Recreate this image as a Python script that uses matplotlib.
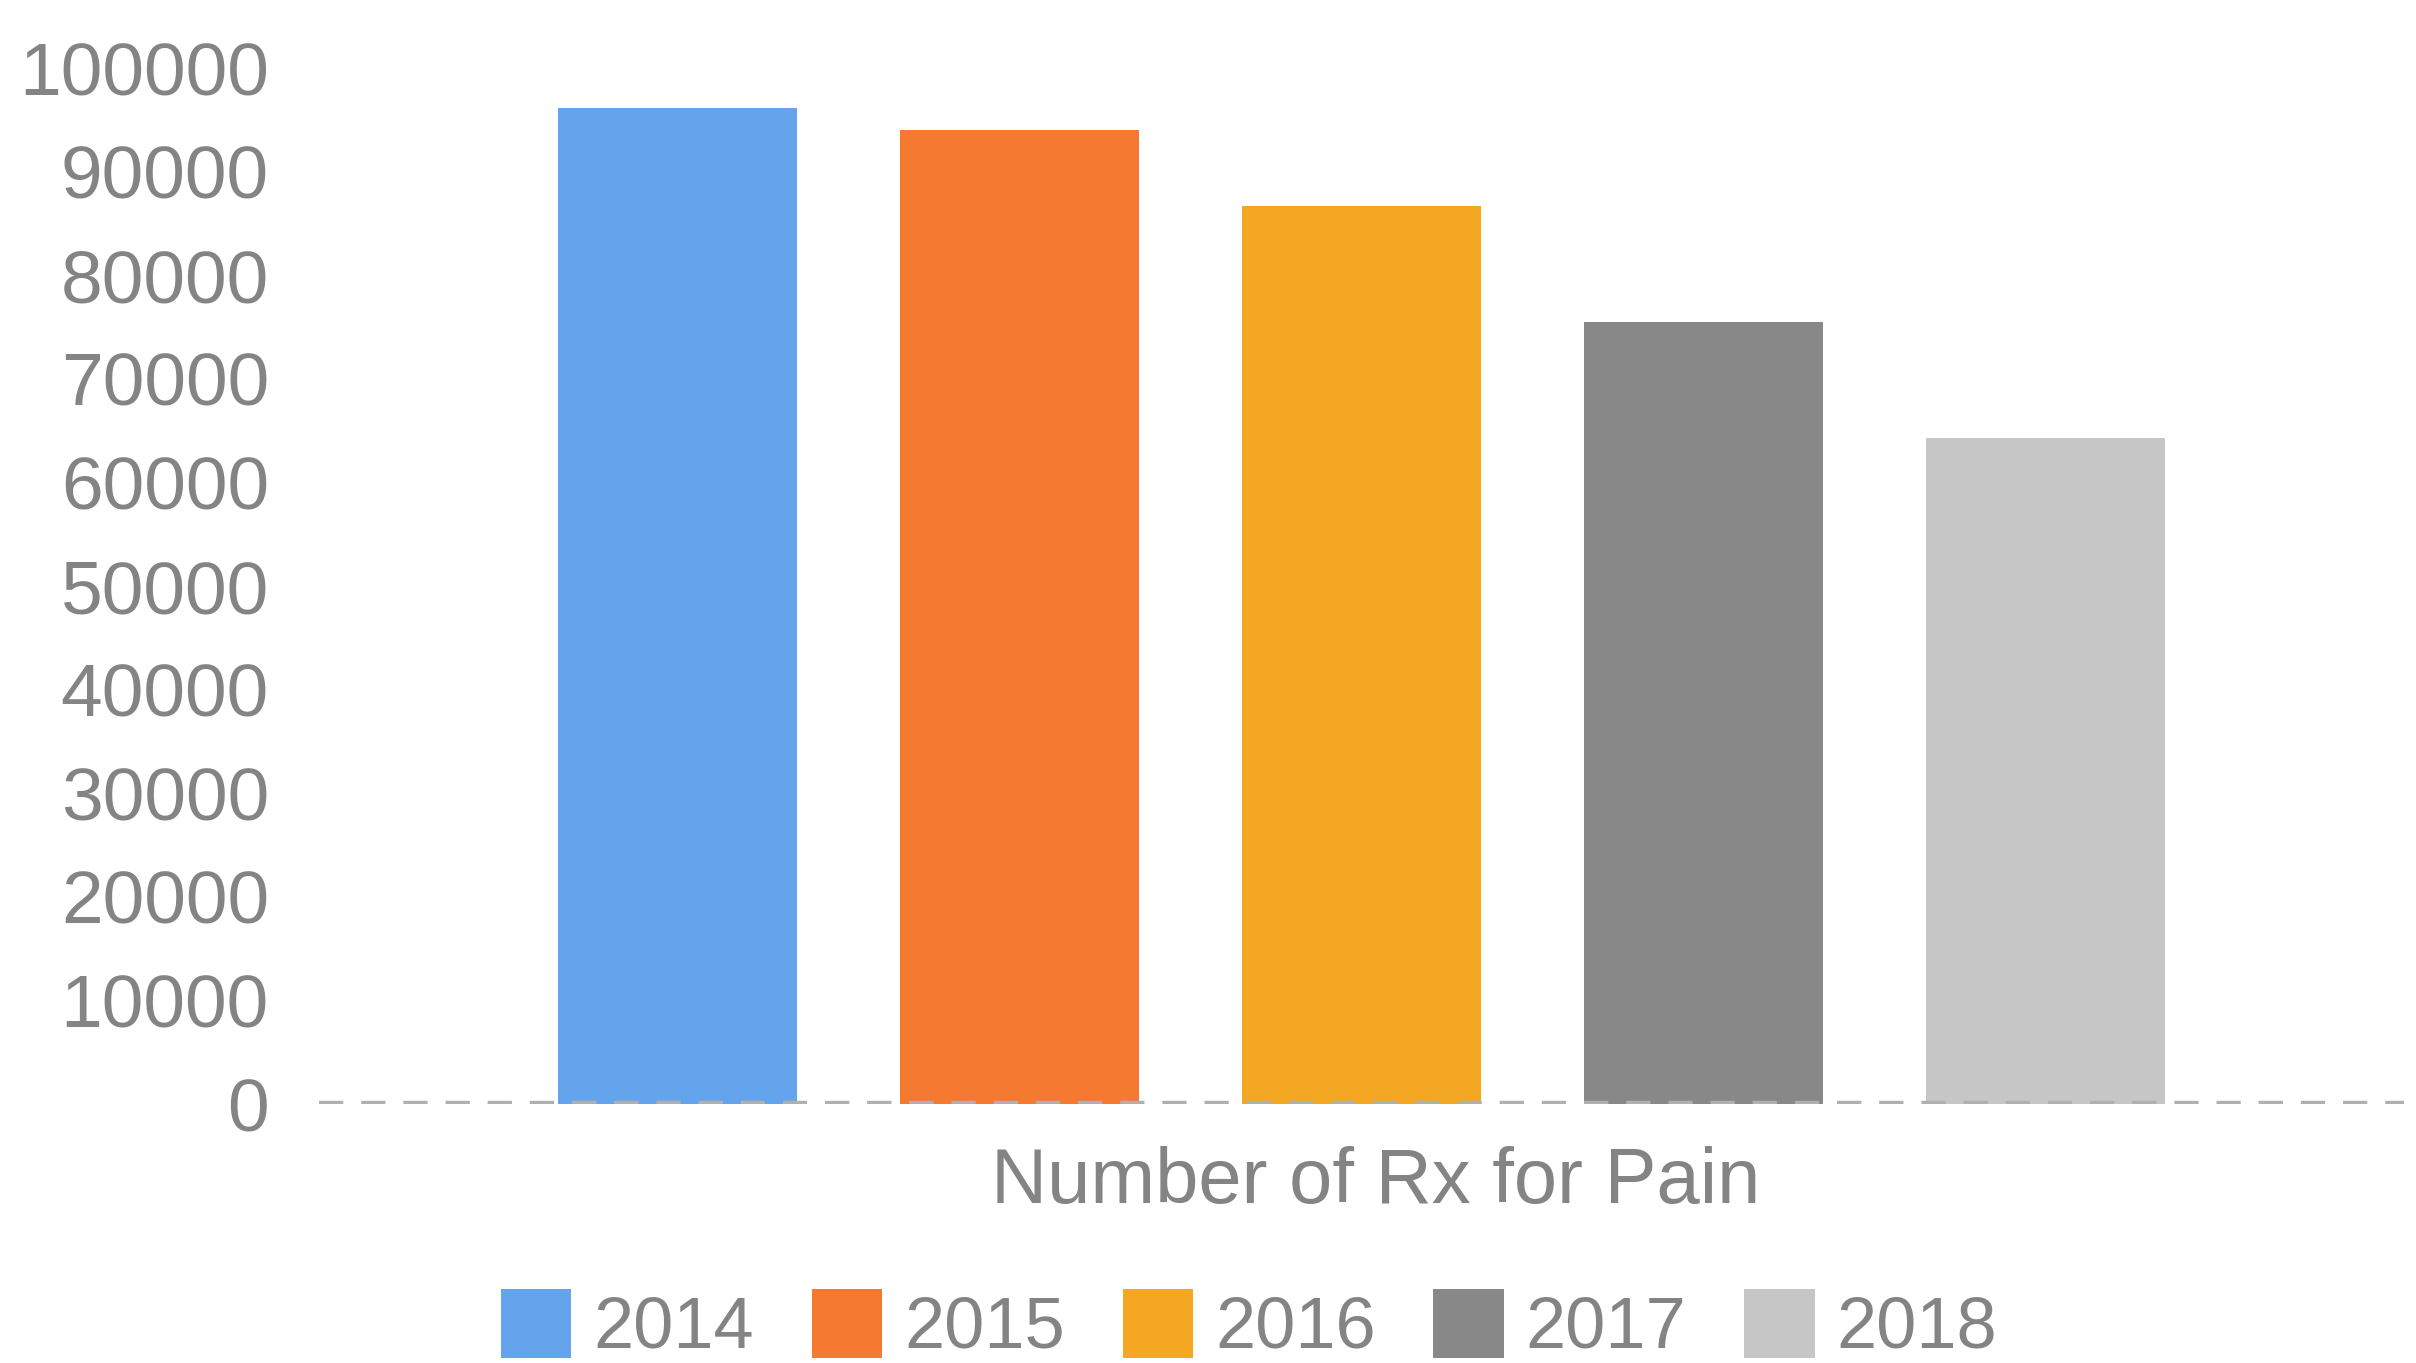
import numpy as np
import matplotlib.pyplot as plt

# data
category = 'Number of Rx for Pain'
years = ['2014', '2015', '2016', '2017', '2018']
rx_count = [96200, 94000, 86700, 75500, 64300]
colors = ['#64A4EC', '#F67932', '#F4A723', '#888888', '#C6C6C6']
yticks = np.arange(0, 100001, 10000)

txt = '#848484'
plt.rcParams['font.family'] = ['Liberation Sans', 'DejaVu Sans']

fig = plt.figure(figsize=(24.16, 13.63), dpi=100)
ax = fig.add_axes([0.132, 0.190, 0.863, 0.760])

x = np.arange(len(years))
for i in range(len(years)):
    ax.bar(x[i], rx_count[i], width=0.70, color=colors[i], label=years[i], zorder=2)

ax.axhline(0, color='#B0B0B2', lw=4.6, linestyle=(0, (3.8, 2.8)), zorder=3)

ax.set_xlim(-1.048, 5.048)
ax.set_ylim(0, 100000)
ax.set_yticks(yticks)
ax.set_yticklabels([str(v) for v in yticks])
ax.set_xticks([])
ax.set_xlabel(category, fontsize=56, color=txt, labelpad=30)
ax.xaxis.label.set_x(0.507)
ax.tick_params(axis='y', length=0, labelsize=54, labelcolor=txt, pad=36)
for s in ax.spines.values():
    s.set_visible(False)

fig.legend(loc='lower center', bbox_to_anchor=(0.517, 0.0), ncol=5, frameon=False,
           fontsize=52, labelcolor=txt, handlelength=0.98, handleheight=1.08,
           handletextpad=0.30, columnspacing=0.80, borderpad=0, borderaxespad=0)

fig.savefig('out.png', dpi=100)
